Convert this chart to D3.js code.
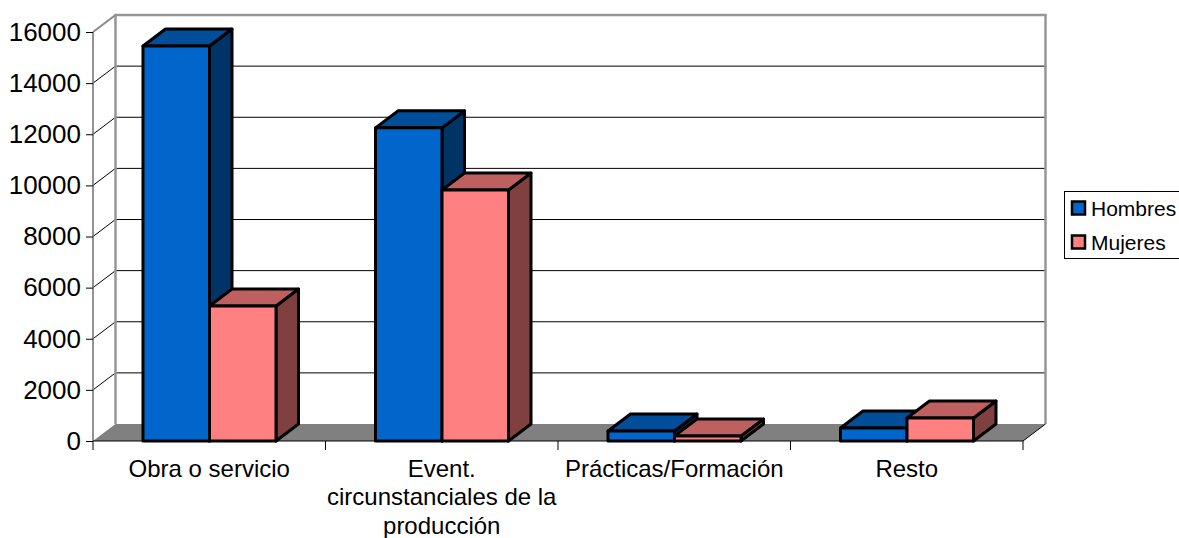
<!DOCTYPE html>
<html><head><meta charset="utf-8">
<script src="https://cdn.jsdelivr.net/npm/d3@7"></script>
<style>html,body{margin:0;padding:0;background:#fff;overflow:hidden}svg{display:block}text{font-family:"Liberation Sans",Arial,sans-serif;fill:#000}</style>
</head><body><svg id="c" width="1179" height="538"></svg>
<script>
const categories = [["Obra o servicio"],["Event.","circunstanciales de la","producción"],["Prácticas/Formación"],["Resto"]];
const seriesNames = ["Hombres","Mujeres"];
const hombres = [15450,12250,390,510];
const mujeres = [5280,9820,195,900];
const yTicks = [0,2000,4000,6000,8000,10000,12000,14000,16000];
const frontColors = ["#0066cc","#ff8080"];
const topColors = ["#004d99","#bf6060"];
const sideColors = ["#003366","#804040"];

const svg = d3.select("#c");
const dx = 22.5, dy = -17;
const y = d3.scaleLinear().domain([0,16000]).range([441,32]);
const x = d3.scaleBand().domain(d3.range(categories.length)).range([93,1023]);
const inner = d3.scaleBand().domain([0,1]).range([50,183]);
const y0 = y(0), xL = x.range()[0], xR = x.range()[1];
const P = a => a.map(p=>p.join(",")).join(" ");

svg.append("polygon").attr("points",P([[xL,y0],[xL+dx,y0+dy],[xR+dx,y0+dy],[xR,y0]])).attr("fill","#808080");
yTicks.slice(1,-1).forEach(t=>{
  svg.append("line").attr("x1",xL+dx).attr("x2",xR+dx).attr("y1",y(t)+dy).attr("y2",y(t)+dy).attr("stroke","#000").attr("stroke-width",1);
  svg.append("line").attr("x1",xL).attr("x2",xL+dx).attr("y1",y(t)).attr("y2",y(t)+dy).attr("stroke","#000").attr("stroke-width",1);
});
svg.append("polyline").attr("points",P([[xL+dx,y0+dy],[xL+dx,y(16000)+dy],[xR+dx,y(16000)+dy],[xR+dx,y0+dy]])).attr("fill","none").attr("stroke","#969696").attr("stroke-width",2.5);
svg.append("line").attr("x1",xL).attr("y1",y(16000)).attr("x2",xL+dx).attr("y2",y(16000)+dy).attr("stroke","#8a8a8a").attr("stroke-width",2);
svg.append("line").attr("x1",xL).attr("y1",y0).attr("x2",xL).attr("y2",y(16000)).attr("stroke","#6e6e6e").attr("stroke-width",1.5);
svg.append("line").attr("x1",xR).attr("y1",y0).attr("x2",xR+dx).attr("y2",y0+dy).attr("stroke","#000").attr("stroke-width",1);
svg.append("g").attr("transform",`translate(${xL},0)`)
  .call(d3.axisLeft(y).tickValues(yTicks).tickFormat(d3.format("d")).tickSize(7).tickPadding(5))
  .call(g=>g.select(".domain").remove())
  .call(g=>g.selectAll("text").attr("font-size",26).style("font-family",'"Liberation Sans"').attr("fill","#000"));
svg.append("line").attr("x1",xL).attr("x2",xR).attr("y1",y0).attr("y2",y0).attr("stroke","#000").attr("stroke-width",1);
d3.range(categories.length+1).forEach(i=>{
  const px = xL + i*x.bandwidth();
  svg.append("line").attr("x1",px).attr("x2",px).attr("y1",y0).attr("y2",y0+9).attr("stroke","#000").attr("stroke-width",1);
});
categories.forEach((lines,i)=>{
  const t = svg.append("text").attr("text-anchor","middle").attr("font-size",24);
  lines.forEach((l,k)=>t.append("tspan").attr("x",x(i)+x.bandwidth()/2).attr("y",477+k*28.3).text(l));
});
const bar = (bx,w,top,s)=>{
  const g = svg.append("g").attr("stroke","#000").attr("stroke-width",3).attr("stroke-linejoin","round");
  g.append("polygon").attr("points",P([[bx+w,top],[bx+w+dx,top+dy],[bx+w+dx,y0+dy],[bx+w,y0]])).attr("fill",sideColors[s]);
  g.append("polygon").attr("points",P([[bx,top],[bx+dx,top+dy],[bx+w+dx,top+dy],[bx+w,top]])).attr("fill",topColors[s]);
  g.append("rect").attr("x",bx).attr("y",top).attr("width",w).attr("height",y0-top).attr("fill",frontColors[s]);
};
categories.forEach((c,i)=>{
  [hombres,mujeres].forEach((vals,s)=>bar(x(i)+inner(s),inner.bandwidth(),y(vals[i]),s));
});
svg.append("rect").attr("x",1064.5).attr("y",191.5).attr("width",120).attr("height",67).attr("fill","#fff").attr("stroke","#000").attr("stroke-width",1);
seriesNames.forEach((n,i)=>{
  const ly = 208 + i*34;
  svg.append("rect").attr("x",1072).attr("y",ly-6.5).attr("width",13).attr("height",13).attr("fill",frontColors[i]).attr("stroke","#000").attr("stroke-width",2.5);
  svg.append("text").attr("x",1091).attr("y",ly+7.5).attr("font-size",21).text(n);
});
</script></body></html>
